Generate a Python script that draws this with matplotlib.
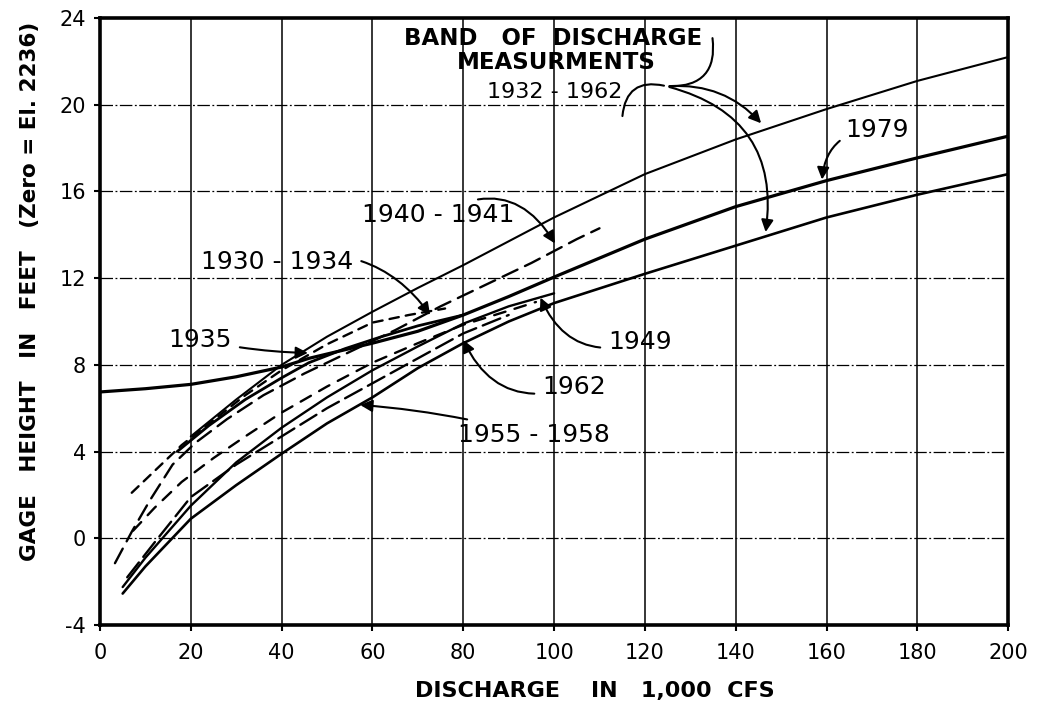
import numpy as np
import matplotlib.pyplot as plt

plt.rcParams['axes.unicode_minus'] = False

# ---- datos de las curvas de gasto (caudal en 1,000 cfs, altura en pies) ----
x_1979 = [0, 10, 20, 30, 40, 46, 52, 60, 70, 80, 90, 100, 120, 140, 160, 180, 200]
y_1979 = [6.75, 6.9, 7.1, 7.45, 7.9, 8.3, 8.6, 9.0, 9.55, 10.3, 11.15, 12.05, 13.8, 15.3, 16.5, 17.55, 18.55]

x_banda_sup = [20, 30, 40, 50, 60, 70, 80, 90, 100, 120, 140, 160, 180, 200]
y_banda_sup = [4.7, 6.4, 8.0, 9.3, 10.45, 11.55, 12.6, 13.7, 14.8, 16.8, 18.4, 19.8, 21.1, 22.2]

x_1930 = [7, 12, 18, 25, 32, 40, 50, 60, 68, 76]
y_1930 = [2.1, 3.1, 4.3, 5.45, 6.6, 7.75, 8.95, 9.95, 10.3, 10.6]

x_1940 = [3.3, 7, 11, 16, 21, 28, 36, 45, 55, 65, 75, 85, 95, 105, 110]
y_1940 = [-1.15, 0.3, 1.75, 3.4, 4.4, 5.5, 6.6, 7.6, 8.6, 9.6, 10.7, 11.7, 12.7, 13.8, 14.3]

x_1935 = [17, 24, 32, 40, 46, 54, 62, 70, 80]
y_1935 = [4.0, 5.2, 6.4, 7.4, 8.1, 8.75, 9.3, 9.8, 10.3]

x_1962 = [7.3, 12, 18, 25, 32, 40, 50, 60, 70, 80, 90, 96]
y_1962 = [0.35, 1.4, 2.6, 3.7, 4.7, 5.8, 7.0, 8.1, 9.0, 9.85, 10.5, 10.9]

x_1949 = [5, 10, 20, 30, 40, 50, 60, 70, 80, 90, 100]
y_1949 = [-2.25, -0.9, 1.5, 3.5, 5.1, 6.5, 7.75, 8.85, 9.9, 10.7, 11.3]

x_1955 = [6, 12, 20, 30, 40, 50, 60, 70, 80, 90]
y_1955 = [-1.8, -0.2, 1.9, 3.4, 4.7, 6.0, 7.15, 8.3, 9.45, 10.3]

x_banda_inf = [5, 10, 20, 30, 40, 50, 60, 70, 80, 90, 100, 120, 140, 160, 180, 200]
y_banda_inf = [-2.55, -1.3, 0.9, 2.45, 3.9, 5.3, 6.5, 7.85, 9.0, 10.0, 10.85, 12.2, 13.5, 14.8, 15.85, 16.8]

ticks_x = [0, 20, 40, 60, 80, 100, 120, 140, 160, 180, 200]
ticks_y = [-4, 0, 4, 8, 12, 16, 20, 24]

fig = plt.figure(figsize=(10.38, 7.07), dpi=100)
ax = fig.add_axes([0.0963, 0.116, 0.875, 0.8585])

# cuadricula: verticales continuas, horizontales raya-punto
for xv in ticks_x[1:-1]:
    ax.axvline(xv, color='black', lw=1.1, zorder=1)
for yv in ticks_y[1:-1]:
    ax.axhline(yv, color='black', lw=0.9, dashes=(10, 2, 1.5, 2), zorder=1)

k = dict(color='black', solid_capstyle='round', dash_capstyle='round', zorder=3)
ax.plot(x_1979, y_1979, lw=2.3, **k)
ax.plot(x_banda_sup, y_banda_sup, lw=1.5, **k)
ax.plot(x_banda_inf, y_banda_inf, lw=1.9, **k)
ax.plot(x_1935, y_1935, lw=2.0, **k)
ax.plot(x_1949, y_1949, lw=1.7, **k)
ax.plot(x_1930, y_1930, lw=1.7, dashes=(4, 3), **k)
ax.plot(x_1940, y_1940, lw=1.7, dashes=(7, 3.5), **k)
ax.plot(x_1962, y_1962, lw=1.7, dashes=(5, 4), **k)
ax.plot(x_1955, y_1955, lw=1.7, dashes=(8, 3), **k)

ax.set_xlim(0, 200)
ax.set_ylim(-4, 24)
ax.set_xticks(ticks_x)
ax.set_yticks(ticks_y)
ax.tick_params(direction='out', length=4, width=1.5, labelsize=15)
ax.tick_params(axis='x', pad=9)
ax.tick_params(axis='y', pad=6)
for s in ax.spines.values():
    s.set_linewidth(2.6)

ax.set_xlabel('DISCHARGE    IN   1,000  CFS', fontsize=16, fontweight='bold')
ax.xaxis.set_label_coords(0.545, -0.092)
ax.set_ylabel('GAGE   HEIGHT   IN   FEET   (Zero = El. 2236)', fontsize=15.5,
              fontweight='bold')
ax.yaxis.set_label_coords(-0.066, 0.55)

# textos y flechas
fs = 18
flecha = dict(arrowstyle='-|>', color='black', lw=1.5, mutation_scale=18)
ax.text(99.8, 23.05, 'BAND   OF  DISCHARGE', fontsize=16.5, fontweight='bold', ha='center', va='center')
ax.text(100.4, 21.95, 'MEASURMENTS', fontsize=16.5, fontweight='bold', ha='center', va='center')
ax.text(100.2, 20.6, '1932 - 1962', fontsize=16, ha='center', va='center')
ax.annotate('', xy=(146, 19.05), xytext=(124.8, 20.85),
            arrowprops=dict(flecha, connectionstyle='arc3,rad=-0.25'))
ax.annotate('', xy=(146.5, 14.0), xytext=(124.8, 20.85),
            arrowprops=dict(flecha, connectionstyle='arc3,rad=-0.45'))
ax.annotate('', xy=(124.8, 20.85), xytext=(134.8, 23.2),
            arrowprops=dict(arrowstyle='-', color='black', lw=1.5,
                            connectionstyle='arc3,rad=-0.6'))
ax.annotate('', xy=(115, 19.35), xytext=(124.8, 20.85),
            arrowprops=dict(arrowstyle='-', color='black', lw=1.5,
                            connectionstyle='arc3,rad=0.6'))

ax.annotate('1979', xy=(159, 16.55), xytext=(171, 18.85), fontsize=fs, ha='center', va='center',
            arrowprops=dict(flecha, connectionstyle='arc3,rad=0.45', shrinkA=2, shrinkB=0))
ax.annotate('1940 - 1941', xy=(100.2, 13.6), xytext=(74.5, 14.9), fontsize=fs, ha='center', va='center',
            arrowprops=dict(flecha, connectionstyle='arc3,rad=-0.5', shrinkA=4, shrinkB=0))
ax.annotate('1930 - 1934', xy=(72.7, 10.3), xytext=(39, 12.75), fontsize=fs, ha='center', va='center',
            arrowprops=dict(flecha, connectionstyle='arc3,rad=-0.35', shrinkA=4, shrinkB=0))
ax.annotate('1935', xy=(45.8, 8.55), xytext=(22, 9.15), fontsize=fs, ha='center', va='center',
            arrowprops=dict(flecha, connectionstyle='arc3,rad=0.05', shrinkA=4, shrinkB=0))
ax.annotate('1949', xy=(97, 11.1), xytext=(119, 9.05), fontsize=fs, ha='center', va='center',
            arrowprops=dict(flecha, connectionstyle='arc3,rad=-0.45', shrinkA=4, shrinkB=0))
ax.annotate('1962', xy=(80, 9.15), xytext=(104.5, 7.0), fontsize=fs, ha='center', va='center',
            arrowprops=dict(flecha, connectionstyle='arc3,rad=-0.45', shrinkA=4, shrinkB=0))
ax.annotate('1955 - 1958', xy=(57.3, 6.15), xytext=(95.5, 4.75), fontsize=fs, ha='center', va='center',
            arrowprops=dict(flecha, connectionstyle='arc3,rad=0.05', shrinkA=4, shrinkB=0))

fig.savefig('out.png', dpi=100)
